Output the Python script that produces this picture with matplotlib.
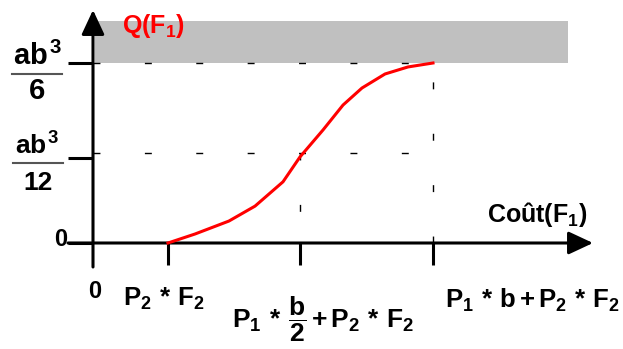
import matplotlib
matplotlib.use('Agg')
import matplotlib.pyplot as plt

# ------------------------------------------------------------------
# chart units: x = cost (P1*b/2 steps), y = Q in ab^3/12 steps
cost_ticks = [0.0, 0.566, 1.566, 2.566]
q_ticks = [0.0, 0.94, 2.0]
q_grid = [1.0, 2.0]
curve_cost = [0.566, 0.77, 1.026, 1.223, 1.434, 1.562, 1.736, 1.887, 2.03, 2.204, 2.377, 2.566]
curve_q = [0.0, 0.10, 0.244, 0.41, 0.68, 0.956, 1.256, 1.533, 1.722, 1.878, 1.956, 2.0]
band_cost = [0.015, 3.585]
band_q = [2.0, 2.47]

x_labels = [r"0",
            r"$P_2\,*\,F_2$",
            r"$P_1\,*\,\dfrac{b}{2}\,\mathsf{+}\,P_2\,*\,F_2$",
            r"$P_1\,*\,b\,\mathsf{+}\,P_2\,*\,F_2$"]

# ------------------------------------------------------------------
plt.rcParams['font.family'] = ['Liberation Sans', 'DejaVu Sans']
plt.rcParams['font.weight'] = 'bold'
plt.rcParams['mathtext.fontset'] = 'custom'
plt.rcParams['mathtext.it'] = 'Liberation Sans:bold'
plt.rcParams['mathtext.rm'] = 'Liberation Sans:bold'
plt.rcParams['mathtext.bf'] = 'Liberation Sans:bold'
plt.rcParams['mathtext.sf'] = 'Liberation Sans'

W, H = 623, 349
X0, Y0 = 93.0, 243.0      # pixel position of the origin
SX, SY = 132.5, 90.0      # pixels per unit


def P(px, py):
    # pixel (from top left) -> chart units
    return (px - X0) / SX, (Y0 - py) / SY


fig = plt.figure(figsize=(W / 100, H / 100), dpi=100)
ax = fig.add_axes([0, 0, 1, 1])
ax.set_xlim(-X0 / SX, (W - X0) / SX)
ax.set_ylim(-(H - Y0) / SY, Y0 / SY)
ax.axis('off')

# grey band above the max
ax.fill_between(band_cost, band_q[0], band_q[1], color='#c0c0c0', lw=0, zorder=0)

# dashed guides
dash = dict(color='black', lw=1.0, linestyle=(0, (5, 32)), zorder=1)
for q in q_grid:
    ax.plot([0, cost_ticks[3]], [q, q], **dash)
ax.plot([cost_ticks[2], cost_ticks[2]], [q_grid[0], 0], **dash)
ax.plot([cost_ticks[3], cost_ticks[3]], [0, q_grid[1]], **dash)

# axes with arrows
lw = 2.2
arr = dict(arrowstyle='-|>,head_length=1.5,head_width=0.7', lw=lw,
           color='black', shrinkA=0, shrinkB=0)
ax.annotate('', xy=P(93, 10), xytext=P(93, 267), arrowprops=arr)
ax.annotate('', xy=P(593, 243), xytext=P(68, 243), arrowprops=arr)

# ticks
xl = P(68, 0)[0]
for q in q_ticks:
    ax.plot([xl, 0], [q, q], color='black', lw=lw, solid_capstyle='butt')
yb = P(0, 265)[1]
for c in cost_ticks[1:]:
    ax.plot([c, c], [yb, 0], color='black', lw=lw, solid_capstyle='butt')

# curve
ax.plot(curve_cost, curve_q, color='#ff0000', lw=2.2, zorder=3)

# y labels
ax.text(*P(67, 240), "0", fontsize=17, ha='right', va='center')
ax.text(*P(13, 65), r"$ab^{3}$", fontsize=21, ha='left', va='baseline')
ax.plot(*zip(P(12, 74), P(62, 74)), color='#555555', lw=1.5)
ax.text(*P(37, 91), "6", fontsize=21, ha='center', va='center')
ax.text(*P(15, 155), r"$ab^{3}$", fontsize=19, ha='left', va='baseline')
ax.plot(*zip(P(13, 163), P(63, 163)), color='#555555', lw=1.5)
ax.text(*P(38, 183), "12", fontsize=19, ha='center', va='center')

# x labels
ax.text(*P(95, 298), x_labels[0], fontsize=17, ha='center', va='baseline')
ax.text(*P(164, 306), x_labels[1], fontsize=18.5, ha='center', va='baseline')
ax.text(*P(323, 328), x_labels[2], fontsize=19, ha='center', va='baseline')
ax.text(*P(532, 308), x_labels[3], fontsize=18.5, ha='center', va='baseline')

# axis titles
ax.text(*P(537, 222), r"Coût(F$_1$)", fontsize=18, ha='center', va='baseline')
ax.text(*P(153, 33), r"Q(F$_1$)", fontsize=18, ha='center', va='baseline',
        color='#ff0000')

fig.savefig('out.png', dpi=100)
